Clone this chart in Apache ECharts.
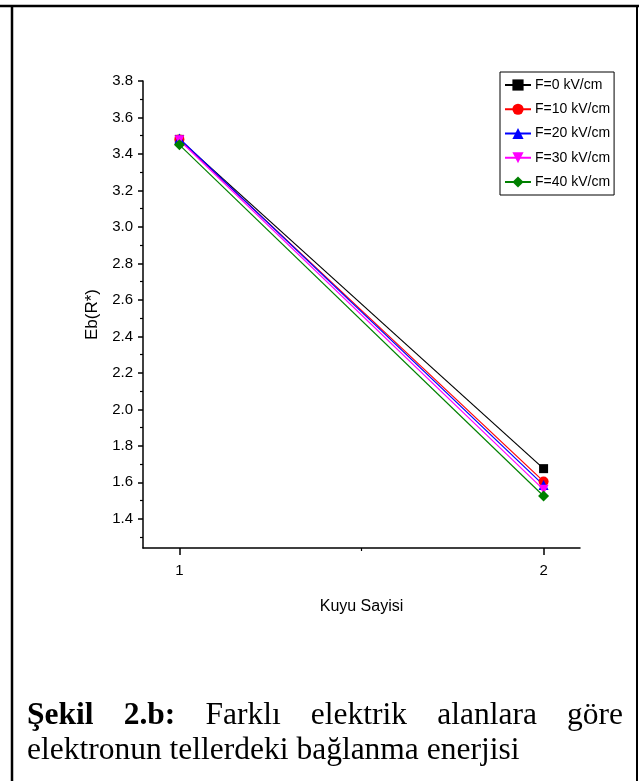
<!DOCTYPE html>
<html>
<head>
<meta charset="utf-8">
<script src="https://cdn.jsdelivr.net/npm/echarts@6/dist/echarts.min.js"></script>
<style>
  html, body { margin: 0; padding: 0; background: #fff; }
  #chart { width: 639px; height: 781px; }
</style>
</head>
<body>
<div id="chart"></div>
<script>
/** chart values */
const wellCounts = [1, 2];
const fieldNames = ["F=0 kV/cm", "F=10 kV/cm", "F=20 kV/cm", "F=30 kV/cm", "F=40 kV/cm"];
const ebF0 = [3.48, 1.675];
const ebF10 = [3.48, 1.605];
const ebF20 = [3.485, 1.585];
const ebF30 = [3.475, 1.56];
const ebF40 = [3.45, 1.525];
const yTickLabels = [1.4, 1.6, 1.8, 2.0, 2.2, 2.4, 2.6, 2.8, 3.0, 3.2, 3.4, 3.6, 3.8];
const yMinorTicks = [1.3, 1.5, 1.7, 1.9, 2.1, 2.3, 2.5, 2.7, 2.9, 3.1, 3.3, 3.5, 3.7];
const xTickLabels = [1, 2];
const xMinorTicks = [1.5];

const captionBold = ["Şekil", "2.b:"];
const captionLine1 = ["Farklı", "elektrik", "alanlara", "göre"];
const captionLine2 = "elektronun tellerdeki bağlanma enerjisi";

const colors = ["#000000", "#ff0000", "#0000ff", "#ff00ff", "#008000"];
const symbols = ["rect", "circle", "triangle", "triangle", "diamond"];
const symbolSizes = [9, 10, 10, 10, 11];
const symbolRotates = [0, 0, 0, 180, 0];
const seriesValues = [ebF0, ebF10, ebF20, ebF30, ebF40];

const sansFont = '"Liberation Sans", Arial, sans-serif';
const serifFont = '"Liberation Serif", "Times New Roman", serif';

/** justify first caption line by measuring words */
const measure = document.createElement("canvas").getContext("2d");
const textWidth = (text, font) => {
  measure.font = font;
  return measure.measureText(text).width;
};
const boldFont = "bold 31.5px " + serifFont;
const normalFont = "31.5px " + serifFont;
const line1Words = captionBold
  .map((w) => ({ text: w, font: boldFont }))
  .concat(captionLine1.map((w) => ({ text: w, font: normalFont })));
const lineLeft = 27;
const lineRight = 623;
const wordsWidth = line1Words.reduce((s, w) => s + textWidth(w.text, w.font), 0);
const gap = (lineRight - lineLeft - wordsWidth) / (line1Words.length - 1);
let cursor = lineLeft;
const captionElements = line1Words.map((w) => {
  const el = {
    type: "text",
    left: cursor,
    top: 700,
    style: { text: w.text, font: w.font, fill: "#000" },
  };
  cursor += textWidth(w.text, w.font) + gap;
  return el;
});
captionElements.push({
  type: "text",
  left: lineLeft,
  top: 735,
  style: { text: captionLine2, font: normalFont, fill: "#000" },
});

const chart = echarts.init(document.getElementById("chart"), null, { renderer: "canvas" });

const option = {
  animation: false,
  backgroundColor: "#fff",
  grid: { left: 143, right: 59, top: 81, bottom: 233 },

  legend: {
    orient: "vertical",
    left: 500,
    top: 72,
    padding: [6, 4, 6, 4],
    itemWidth: 26,
    itemHeight: 14,
    itemGap: 10.25,
    borderColor: "#000",
    borderWidth: 1,
    backgroundColor: "#fff",
    textStyle: { fontFamily: sansFont, fontSize: 14, color: "#000", padding: [0, 0, 0, -1] },
    data: fieldNames,
  },

  xAxis: [
    {
      type: "value",
      min: 0.9,
      max: 2.1,
      splitLine: { show: false },
      axisLine: { lineStyle: { color: "#000", width: 1.5 } },
      axisTick: { length: 7, lineStyle: { color: "#000", width: 1.5 }, customValues: xTickLabels },
      axisLabel: {
        customValues: xTickLabels,
        margin: 15,
        color: "#000",
        fontFamily: sansFont,
        fontSize: 15,
      },
      name: "Kuyu Sayisi",
      nameLocation: "middle",
      nameGap: 51,
      nameTextStyle: { fontFamily: sansFont, fontSize: 16, color: "#000" },
    },
    {
      type: "value",
      position: "bottom",
      min: 0.9,
      max: 2.1,
      splitLine: { show: false },
      axisLine: { show: false },
      axisTick: { length: 3, lineStyle: { color: "#000", width: 1.2 }, customValues: xMinorTicks },
      axisLabel: { show: false },
    },
  ],

  yAxis: [
    {
      type: "value",
      min: 1.24,
      max: 3.8,
      splitLine: { show: false },
      axisLine: { show: true, lineStyle: { color: "#000", width: 1.5 } },
      axisTick: { show: true, length: 5, lineStyle: { color: "#000", width: 1.5 }, customValues: yTickLabels },
      axisLabel: {
        customValues: yTickLabels,
        margin: 10,
        color: "#000",
        fontFamily: sansFont,
        fontSize: 15,
        formatter: (v) => v.toFixed(1),
      },
      name: "Eb(R*)",
      nameLocation: "middle",
      nameGap: 37,
      nameTextStyle: { fontFamily: sansFont, fontSize: 17, color: "#000" },
    },
    {
      type: "value",
      position: "left",
      min: 1.24,
      max: 3.8,
      splitLine: { show: false },
      axisLine: { show: false },
      axisTick: { show: true, length: 3, lineStyle: { color: "#000", width: 1.2 }, customValues: yMinorTicks },
      axisLabel: { show: false },
    },
  ],

  series: fieldNames.map((name, i) => ({
    name,
    type: "line",
    data: wellCounts.map((x, j) => [x, seriesValues[i][j]]),
    symbol: symbols[i],
    symbolSize: symbolSizes[i],
    symbolRotate: symbolRotates[i],
    showAllSymbol: true,
    lineStyle: { color: colors[i], width: 1.2 },
    itemStyle: { color: colors[i], borderWidth: 0 },
    emphasis: { disabled: true },
  })),

  graphic: [
    {
      type: "line",
      shape: { x1: 0, y1: 6, x2: 639, y2: 6 },
      style: { stroke: "#000", lineWidth: 2.5 },
    },
    {
      type: "line",
      shape: { x1: 12, y1: 6, x2: 12, y2: 781 },
      style: { stroke: "#000", lineWidth: 2.5 },
    },
    {
      type: "line",
      shape: { x1: 637, y1: 6, x2: 637, y2: 781 },
      style: { stroke: "#000", lineWidth: 2 },
    },
  ].concat(captionElements),
};

chart.setOption(option);
</script>
</body>
</html>
